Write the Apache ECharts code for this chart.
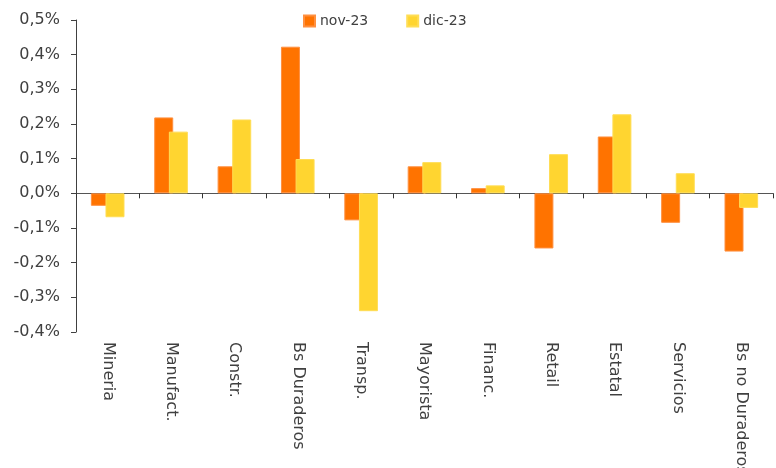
<!DOCTYPE html>
<html>
<head>
<meta charset="utf-8">
<script src="https://cdn.jsdelivr.net/npm/echarts@6/dist/echarts.min.js"></script>
<style>
html,body{margin:0;padding:0;background:#fff;}
#chart{width:776px;height:468px;}
</style>
</head>
<body>
<div id="chart"></div>
<script>
const categories = ['Mineria','Manufact.','Constr.','Bs Duraderos','Transp.','Mayorista','Financ.','Retail','Estatal','Servicios','Bs no Duraderos'];
const nov23 = [-0.036, 0.219, 0.078, 0.423, -0.078, 0.078, 0.015, -0.159, 0.164, -0.085, -0.168];
const dic23 = [-0.069, 0.178, 0.213, 0.099, -0.340, 0.090, 0.023, 0.113, 0.228, 0.058, -0.042];
const yTicks = { min: -0.4, max: 0.5, interval: 0.1 };

const FONT = 'DejaVu Sans';
const chart = echarts.init(document.getElementById('chart'), null, { renderer: 'canvas' });
chart.setOption({
  animation: false,
  textStyle: { fontFamily: FONT },
  legend: {
    left: 298, top: 9,
    itemWidth: 11, itemHeight: 11, itemGap: 38,
    icon: 'rect',
    textStyle: { fontFamily: FONT, fontSize: 14, color: '#404040' },
    data: ['nov-23', 'dic-23']
  },
  grid: { left: 76, right: 3, top: 20, bottom: 136, containLabel: false, outerBoundsMode: 'none' },
  xAxis: [
    {
      type: 'category',
      data: categories,
      position: 'bottom',
      axisLine: { show: false, onZero: false },
      axisTick: { show: false },
      axisLabel: {
        rotate: -90, margin: 10, fontFamily: FONT, fontSize: 16, color: '#404040', interval: 0
      },
      splitLine: { show: false }
    },
    {
      type: 'category',
      data: categories,
      position: 'top',
      axisLine: { show: true, onZero: true, lineStyle: { color: '#555', width: 1 } },
      axisTick: { show: true, inside: true, interval: 0, length: 5, lineStyle: { color: '#333' } },
      axisLabel: { show: false, interval: 0 },
      splitLine: { show: false }
    }
  ],
  yAxis: {
    type: 'value',
    min: yTicks.min, max: yTicks.max, interval: yTicks.interval,
    axisLine: { show: true, lineStyle: { color: '#404040', width: 1 } },
    axisTick: { show: true, length: 5, lineStyle: { color: '#404040' } },
    axisLabel: {
      margin: 16, fontFamily: FONT, fontSize: 16, color: '#404040',
      formatter: v => v.toFixed(1).replace('.', ',') + '%'
    },
    splitLine: { show: false }
  },
  series: [
    {
      name: 'nov-23', type: 'bar', data: nov23, xAxisIndex: 0,
      barWidth: 19, barGap: '-23%',
      itemStyle: { color: '#ff7300', borderColor: '#ff9040', borderWidth: 1 }
    },
    {
      name: 'dic-23', type: 'bar', data: dic23, xAxisIndex: 0,
      barWidth: 19,
      itemStyle: { color: '#ffd530', borderColor: '#ffdd55', borderWidth: 1 }
    }
  ]
});
</script>
</body>
</html>
